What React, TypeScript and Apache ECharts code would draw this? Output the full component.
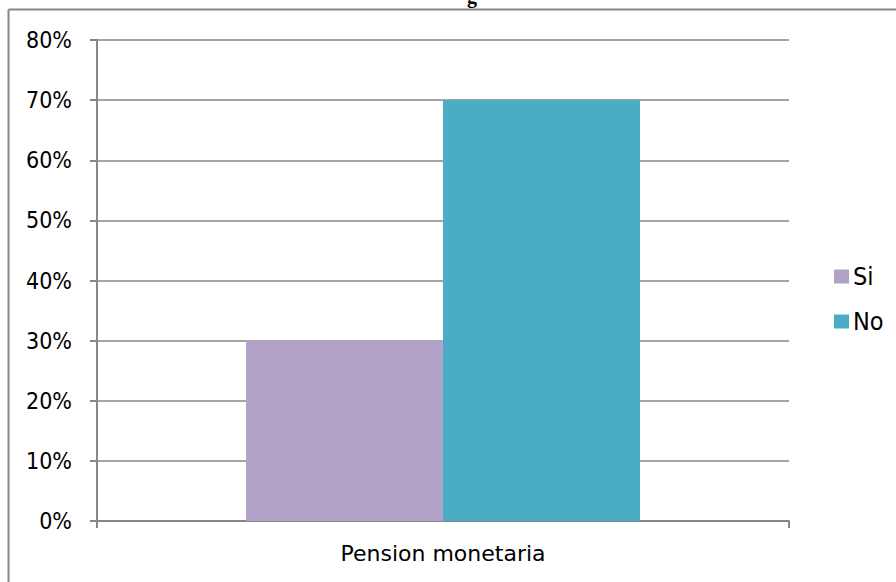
import React, { useEffect, useRef } from "react";
import * as echarts from "echarts";

const categories = ["Pension monetaria"];
const seriesNames = ["Si", "No"];
const siValues = [30];
const noValues = [70];
const yTicks = [0, 10, 20, 30, 40, 50, 60, 70, 80];

const FONT = "'DejaVu Sans Condensed', sans-serif";

export default function App() {
  const ref = useRef<HTMLDivElement>(null);
  useEffect(() => {
    if (!ref.current) return;
    const chart = echarts.init(ref.current, null, { renderer: "svg" });
    chart.setOption({
      animation: false,
      backgroundColor: "#ffffff",
      grid: { left: 97, right: 107, top: 40, bottom: 61, containLabel: false },
      graphic: [
        { type: "line", shape: { x1: 8.5, y1: 9.5, x2: 896, y2: 9.5 }, style: { stroke: "#868686", lineWidth: 2 } },
        { type: "line", shape: { x1: 8.5, y1: 9.5, x2: 8.5, y2: 582 }, style: { stroke: "#868686", lineWidth: 2 } },
        { type: "text", x: 467, y: 6, style: { text: "g", font: "bold 20px 'Liberation Serif', serif", fill: "#000", verticalAlign: "bottom" } },
      ],
      legend: {
        orient: "vertical",
        left: 829,
        top: 259,
        itemWidth: 15,
        itemHeight: 14,
        itemGap: 20,
        icon: "rect",
        textStyle: { fontFamily: FONT, fontSize: 25, color: "#000", padding: [0, 0, 0, -1] },
        data: seriesNames,
      },
      xAxis: {
        type: "category",
        data: categories,
        axisLine: { lineStyle: { color: "#868686", width: 2 } },
        axisTick: { show: true, length: 7, lineStyle: { color: "#868686", width: 2 } },
        axisLabel: { fontFamily: "'DejaVu Sans', sans-serif", fontSize: 22, color: "#000", margin: 21 },
      },
      yAxis: {
        type: "value",
        min: 0,
        max: 80,
        interval: 10,
        axisLine: { show: true, lineStyle: { color: "#868686", width: 2 } },
        axisTick: { show: true, length: 7, lineStyle: { color: "#868686", width: 2 } },
        splitLine: { lineStyle: { color: "#868686", width: 1.5 } },
        axisLabel: {
          fontFamily: FONT,
          fontSize: 23,
          color: "#000",
          margin: 25,
          formatter: (v: number) => (yTicks.includes(v) ? v + "%" : ""),
        },
      },
      series: [
        { name: seriesNames[0], type: "bar", data: siValues, barWidth: 197, barGap: "0%", itemStyle: { color: "#B3A2C7" } },
        { name: seriesNames[1], type: "bar", data: noValues, barWidth: 197, barGap: "0%", itemStyle: { color: "#4BACC6" } },
      ],
    });
    return () => chart.dispose();
  }, []);
  return <div ref={ref} style={{ width: 896, height: 582, position: "fixed", left: 0, top: 0 }} />;
}
